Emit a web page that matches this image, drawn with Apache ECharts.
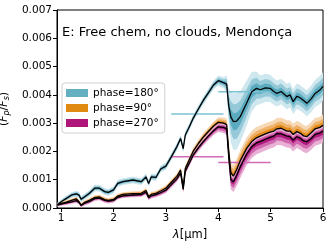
<!DOCTYPE html>
<html><head><meta charset="utf-8">
<script src="https://cdn.jsdelivr.net/npm/echarts@6/dist/echarts.min.js"></script>
<style>html,body{margin:0;padding:0;background:#fff}#c{width:332px;height:245px}</style>
</head><body><div id="c"></div>
<script>
const wl = [0.93,1.0,1.1,1.2,1.29,1.34,1.38,1.45,1.54,1.64,1.73,1.83,1.9,2.0,2.08,2.18,2.37,2.53,2.62,2.67,2.72,2.81,2.9,3.0,3.1,3.21,3.28,3.33,3.37,3.45,3.52,3.62,3.72,3.82,3.91,4.0,4.1,4.16,4.2,4.24,4.29,4.35,4.42,4.54,4.64,4.73,4.8,4.9,4.99,5.06,5.12,5.2,5.31,5.37,5.43,5.5,5.56,5.63,5.69,5.77,5.85,5.94,6.0];
const f180 = [.00012,.00022,.00034,.00046,.00050,.00046,.00031,.00040,.00052,.00070,
 .00070,.00058,.00055,.00064,.00087,.00093,.00099,.00093,.00110,.00087,
 .00110,.00108,.00138,.00148,.00180,.00217,.00246,.00210,.00258,.00288,
 .00317,.00350,.00382,.00410,.00435,.00450,.00443,.00438,.00360,.00322,
 .00305,.00307,.00323,.00370,.00411,.00423,.00418,.00425,.00423,.00412,
 .00405,.00412,.00394,.00400,.00376,.00395,.00390,.00380,.00370,.00385,
 .00405,.00417,.00430];
const s180 = [.00008,.00009,.0001,.0001,.00011,.00011,.00011,.00011,.00011,.00012,
 .00012,.00012,.00012,.00012,.00012,.00012,.00012,.00012,.00012,.00012,
 .00012,.00012,.00012,.00013,.00013,.00013,.00013,.00014,.00013,.00013,
 .00013,.00013,.00014,.00015,.00016,.00018,.0002,.0003,.0006,.0009,
 .001,.001,.0009,.0008,.0007,.0006,.0005,.0005,.00048,.00047,
 .00046,.00045,.00045,.00045,.00045,.00045,.00045,.00045,.00046,.00047,
 .00048,.0005,.0005];
const f90 = [.00011,.00016,.00021,.00027,.00032,.00022,.00010,.00020,.00027,.00037,
 .00039,.00030,.00027,.00030,.00042,.00048,.00051,.00052,.00062,.00040,
 .00048,.00052,.00060,.00070,.00090,.00112,.00134,.00072,.00140,.00172,
 .00200,.00228,.00252,.00272,.00290,.00303,.00300,.00295,.00200,.00125,
 .00113,.00135,.00167,.00210,.00235,.00248,.00254,.00262,.00268,.00272,
 .00280,.00282,.00272,.00272,.00260,.00270,.00265,.00255,.00252,.00265,
 .00280,.00285,.00292];
const f270 = [.00010,.00014,.00018,.00022,.00026,.00020,.00009,.00017,.00023,.00033,
 .00035,.00027,.00024,.00027,.00038,.00043,.00046,.00047,.00056,.00036,
 .00043,.00047,.00054,.00063,.00082,.00103,.00124,.00066,.00130,.00160,
 .00187,.00213,.00236,.00256,.00273,.00287,.00285,.00280,.00180,.00100,
 .00093,.00115,.00146,.00190,.00217,.00230,.00235,.00243,.00250,.00254,
 .00263,.00262,.00254,.00252,.00240,.00252,.00247,.00237,.00234,.00245,
 .00260,.00265,.00272];
// spread of the outer band: above/below the line
const s90 = [.00005,.00006,.00007,.00007,.00008,.00008,.00008,.00008,.00008,.00008,
 .00008,.00008,.00008,.00008,.00008,.00008,.00008,.00008,.00009,.00009,
 .00009,.00009,.0001,.0001,.0001,.0001,.00011,.00012,.00011,.00011,
 .00012,.00013,.00014,.00015,.00016,.00018,.0002,.00022,.0003,.00035,
 .00038,.00038,.00038,.00038,.00038,.00038,.00038,.00038,.00038,.00038,
 .00038,.00038,.00038,.00038,.00038,.00038,.00038,.00038,.00038,.00038,
 .00038,.00038,.00038];
const s270Up = [.00003,.00003,.00004,.00004,.00004,.00004,.00004,.00004,.00004,.00004,
 .00004,.00004,.00004,.00004,.00004,.00004,.00004,.00004,.00005,.00005,
 .00005,.00005,.00005,.00006,.00006,.00006,.00006,.00006,.00006,.00007,
 .00008,.00009,.0001,.00011,.00012,.00013,.00014,.00015,.00017,.00018,
 .00018,.00018,.00018,.00018,.00018,.00018,.00018,.00018,.00018,.00018,
 .00018,.00018,.00018,.00018,.00018,.00018,.00018,.00018,.00018,.00018,
 .00018,.00018,.00018];
const s270Dn = [.00005,.00006,.00007,.00007,.00008,.00008,.00006,.00008,.00008,.00008,
 .00008,.00008,.00008,.00008,.00008,.00008,.00008,.00008,.00009,.00009,
 .00009,.00009,.0001,.0001,.0001,.0001,.00011,.00012,.00011,.00011,
 .00012,.00013,.00014,.00015,.00016,.00018,.0002,.00022,.0003,.00035,
 .00036,.00038,.0004,.0004,.0004,.0004,.0004,.0004,.0004,.0004,
 .0004,.0004,.0004,.0004,.0004,.0004,.0004,.0004,.0004,.0004,
 .0004,.0004,.0004];
// binned points: centre, half width, values
const binX = [3.6, 4.5];
const binHalf = [0.5, 0.5];
const bin180 = [0.00332, 0.00411];
const bin270 = [0.00181, 0.00161];
const xTicks = [1,2,3,4,5,6];
const legendNames = ['phase=180°','phase=90°','phase=270°'];

const FONT = 'DejaVu Sans';
const colors = {
  p180: ['#cfe7ee','#95c9d8','#5aabc0'],
  p90:  ['#f7d8b4','#efb068','#e08a1a'],
  p270: ['#e8b0d4','#d067ae','#b01a7e']
};
const legendColors = ['#62afc2','#e08a12','#b0157a'];

function band(name, mid, up, dn, k, color, z) {
  return {
    type: 'custom', name: name, z: z, silent: true, clip: true,
    data: [[wl[0], mid[0]]],
    itemStyle: {color: color},
    renderItem: function (params, api) {
      const pts = [];
      for (let i = 0; i < wl.length; i++) pts.push(api.coord([wl[i], mid[i] + k * up[i]]));
      for (let i = wl.length - 1; i >= 0; i--) pts.push(api.coord([wl[i], Math.max(0, mid[i] - k * dn[i])]));
      return {type: 'polygon', shape: {points: pts}, style: {fill: color}};
    }
  };
}
function line(mid, z) {
  return {type: 'line', data: wl.map((x, i) => [x, mid[i]]), showSymbol: false, silent: true, z: z,
    lineStyle: {color: '#000', width: 1.3}, itemStyle: {color: '#000'}};
}
function errbar(vals, color, z) {
  return {
    type: 'custom', z: z, silent: true,
    data: binX.map((x, i) => [x, vals[i], binHalf[i]]),
    renderItem: function (params, api) {
      const x = api.value(0), y = api.value(1), h = api.value(2);
      const a = api.coord([x - h, y]), b = api.coord([x + h, y]);
      return {type: 'line', shape: {x1: a[0], y1: a[1], x2: b[0], y2: b[1]}, style: {stroke: color, lineWidth: 1.5}};
    }
  };
}

const series = [];
series.push(band('', f180, s180, s180, 1, colors.p180[0], 2));
series.push(band('', f180, s180, s180, 0.62, colors.p180[1], 2));
series.push(band(legendNames[0], f180, s180, s180, 0.3, colors.p180[2], 2));
series.push(band('', f90, s90, s90, 1, colors.p90[0], 3));
series.push(band('', f90, s90, s90, 0.62, colors.p90[1], 3));
series.push(band(legendNames[1], f90, s90, s90, 0.3, colors.p90[2], 3));
series.push(band('', f270, s270Up, s270Dn, 1, colors.p270[0], 4));
series.push(band('', f270, s270Up, s270Dn, 0.62, colors.p270[1], 4));
series.push(band(legendNames[2], f270, s270Up, s270Dn, 0.3, colors.p270[2], 4));
series.push(errbar(bin180, '#7cc2d2', 5));
series.push(errbar(bin270, '#d46ab6', 5));
series.push(line(f180, 6));
series.push(line(f90, 6));
series.push(line(f270, 6));

const chart = echarts.init(document.getElementById('c'), null, {renderer: 'canvas'});
chart.setOption({
  animation: false,
  backgroundColor: '#fff',
  textStyle: {fontFamily: FONT},
  title: {text: 'E: Free chem, no clouds, Mendonça', left: 62, top: 26, padding: 0,
    textStyle: {fontFamily: FONT, fontSize: 13, fontWeight: 'normal', color: '#000'}},
  legend: {
    orient: 'vertical', left: 62, top: 83, padding: [4, 6, 4, 4],
    backgroundColor: 'rgba(255,255,255,0.85)', borderColor: '#d0d0d0', borderWidth: 1, borderRadius: 3,
    itemWidth: 22, itemHeight: 8, itemGap: 3, selectedMode: false,
    textStyle: {fontFamily: FONT, fontSize: 10.5, color: '#000', lineHeight: 12},
    data: legendNames.map((n, i) => ({name: n, icon: 'rect', itemStyle: {color: legendColors[i], borderWidth: 0}}))
  },
  grid: {left: 57, right: 9, top: 10, bottom: 37, containLabel: false, outerBoundsMode: 'none',
    show: true, borderColor: '#000', borderWidth: 1, backgroundColor: 'transparent'},
  xAxis: {
    type: 'value', min: 0.92, max: 6,
    name: '{i|λ}[μm]', nameLocation: 'middle', nameGap: 17,
    nameTextStyle: {fontFamily: FONT, fontSize: 11.5, color: '#000', rich: {i: {fontStyle: 'italic', fontFamily: FONT, fontSize: 11.5}}},
    axisLine: {show: true, onZero: false, lineStyle: {color: '#000', width: 1}},
    axisTick: {show: true, length: 4, customValues: xTicks, lineStyle: {color: '#000'}},
    axisLabel: {customValues: xTicks, margin: 5, fontFamily: FONT, fontSize: 10.5, color: '#000'},
    splitLine: {show: false}
  },
  yAxis: {
    type: 'value', min: 0, max: 0.007, interval: 0.001,
    name: '({f|F}{s|p}/{f|F}{s|s})', nameLocation: 'middle', nameGap: 38, nameRotate: 90,
    nameTextStyle: {fontFamily: FONT, fontSize: 11, color: '#000',
      rich: {f: {fontStyle: 'italic', fontFamily: FONT, fontSize: 11},
             s: {fontStyle: 'italic', fontFamily: FONT, fontSize: 8, padding: [5, 0, 0, 0]}}},
    axisLine: {show: true, lineStyle: {color: '#000', width: 1}},
    axisTick: {show: true, length: 4, lineStyle: {color: '#000'}},
    axisLabel: {margin: 5, fontFamily: FONT, fontSize: 10.5, color: '#000',
      formatter: v => v.toFixed(3)},
    splitLine: {show: false}
  },
  series: series
});
</script></body></html>
